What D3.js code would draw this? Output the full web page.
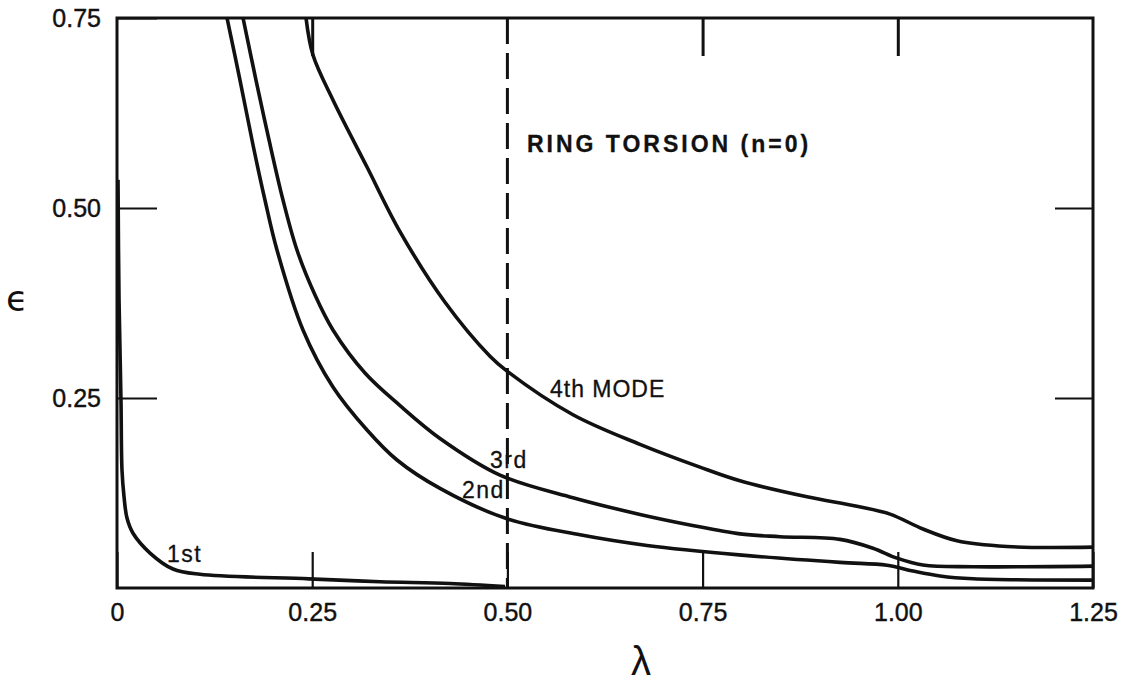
<!DOCTYPE html>
<html>
<head>
<meta charset="utf-8">
<script src="https://cdn.jsdelivr.net/npm/d3@7"></script>
<style>
    body { margin: 0; background: #fff; }
    .tick line { stroke: #111; stroke-width: 2.2; }
    .tick text { font-family: "Liberation Sans", Arial, sans-serif; font-size: 25px; fill: #111; stroke: #111; stroke-width: 0.4; }
    .mode { fill: none; stroke: #111; stroke-width: 3.6; }
    .label { font-family: "Liberation Sans", Arial, sans-serif; font-size: 23px; fill: #111; stroke: #111; stroke-width: 0.3; }
</style>
</head>
<body>
<script>
//ring torsion (n=0) frequency curves, eps against lambda

//axis ticks
var xTicks = [0, 0.25, 0.50, 0.75, 1.00, 1.25],
    yTicks = [0.25, 0.50, 0.75];

//1st mode, stops at lambda = 0.5
var mode1Lambda = [0.0013, 0.0026, 0.0051, 0.0064, 0.0090, 0.0128, 0.0205, 0.0423, 0.0717, 0.1063, 0.2459, 0.3368, 0.4265, 0.4969],
    mode1Eps    = [0.537, 0.379, 0.247, 0.155, 0.120, 0.092, 0.072, 0.046, 0.025, 0.018, 0.012, 0.0083, 0.006, 0.002];

//2nd mode
var mode2Lambda = [0.1409, 0.1575, 0.1742, 0.1895, 0.2049, 0.2382, 0.2766, 0.3202, 0.3586, 0.4137, 0.4969, 0.5930, 0.6788, 0.7966, 0.9260, 0.9861, 1.0194, 1.0540, 1.0963, 1.25],
    mode2Eps    = [0.75, 0.6684, 0.5829, 0.5105, 0.4447, 0.3395, 0.2645, 0.2079, 0.1684, 0.131, 0.092, 0.070, 0.056, 0.0436, 0.0337, 0.030, 0.0224, 0.0159, 0.0122, 0.0104];

//3rd mode
var mode3Lambda = [0.1614, 0.1780, 0.1947, 0.2126, 0.2305, 0.2536, 0.2766, 0.3176, 0.3625, 0.4137, 0.4905, 0.5840, 0.6698, 0.7338, 0.7979, 0.8491, 0.9259, 0.9682, 0.9989, 1.0322, 1.0963, 1.25],
    mode3Eps    = [0.75, 0.6684, 0.5895, 0.5105, 0.4447, 0.3855, 0.3395, 0.2829, 0.240, 0.1968, 0.1486, 0.1188, 0.0968, 0.083, 0.0712, 0.0675, 0.064, 0.0524, 0.0393, 0.0303, 0.028, 0.0288];

//4th mode
var mode4Lambda = [0.2421, 0.2510, 0.2766, 0.3202, 0.3624, 0.4201, 0.4777, 0.4995, 0.5840, 0.6698, 0.7466, 0.7979, 0.8837, 0.9477, 0.9900, 1.0322, 1.0758, 1.1398, 1.25],
    mode4Eps    = [0.75, 0.7013, 0.6421, 0.5539, 0.469, 0.376, 0.305, 0.2854, 0.228, 0.189, 0.159, 0.141, 0.120, 0.1075, 0.0972, 0.0776, 0.0621, 0.0546, 0.0538];

//curve labels and where they sit (lambda, eps of text start)
var labelText   = ["1st", "2nd", "3rd", "4th MODE"],
    labelLambda = [0.064, 0.4418, 0.4777, 0.5545],
    labelEps    = [0.0342, 0.1184, 0.1579, 0.2513];

var modes = [
    {lambda: mode1Lambda, eps: mode1Eps},
    {lambda: mode2Lambda, eps: mode2Eps},
    {lambda: mode3Lambda, eps: mode3Eps},
    {lambda: mode4Lambda, eps: mode4Eps}
];

setChart();

function setChart(){
    var width = 1127,
        height = 685;

    var svg = d3.select("body")
        .append("svg")
        .attr("width", width)
        .attr("height", height);

    var x = d3.scaleLinear().domain([0, 1.25]).range([117, 1093]),
        y = d3.scaleLinear().domain([0, 0.75]).range([588, 18]);

    //clip curves to the frame
    svg.append("clipPath")
        .attr("id", "plot")
        .append("rect")
        .attr("x", x(0))
        .attr("y", y(0.75))
        .attr("width", x(1.25) - x(0))
        .attr("height", y(0) - y(0.75));

    //bottom axis, ticks pointing in
    var bottom = svg.append("g")
        .attr("transform", "translate(0," + y(0) + ")")
        .call(d3.axisBottom(x)
            .tickValues(xTicks)
            .tickSizeInner(-36)
            .tickSizeOuter(0)
            .tickPadding(15)
            .tickFormat(function(d){ return d === 0 ? "0" : d3.format(".2f")(d); }));
    bottom.select(".domain").remove();

    //top ticks only
    var top = svg.append("g")
        .attr("transform", "translate(0," + y(0.75) + ")")
        .call(d3.axisTop(x)
            .tickValues([0.25, 0.75, 1.00])
            .tickSizeInner(-38)
            .tickSizeOuter(0)
            .tickFormat(""));
    top.select(".domain").remove();
    top.selectAll(".tick line").style("stroke-width", 3);

    //left axis
    var left = svg.append("g")
        .attr("transform", "translate(" + x(0) + ",0)")
        .call(d3.axisLeft(y)
            .tickValues(yTicks)
            .tickSizeInner(-40)
            .tickSizeOuter(0)
            .tickPadding(16)
            .tickFormat(d3.format(".2f")));
    left.select(".domain").remove();
    left.selectAll(".tick line").style("stroke-width", 1.8);

    //right ticks only
    var right = svg.append("g")
        .attr("transform", "translate(" + x(1.25) + ",0)")
        .call(d3.axisRight(y)
            .tickValues([0.25, 0.50])
            .tickSizeInner(-38)
            .tickSizeOuter(0)
            .tickFormat(""));
    right.select(".domain").remove();

    //frame
    svg.append("rect")
        .attr("x", x(0))
        .attr("y", y(0.75))
        .attr("width", x(1.25) - x(0))
        .attr("height", y(0) - y(0.75))
        .attr("fill", "none")
        .attr("stroke", "#111")
        .attr("stroke-width", 3);

    //dashed line at lambda = 0.5
    svg.append("line")
        .attr("x1", x(0.5))
        .attr("x2", x(0.5))
        .attr("y1", y(0.75))
        .attr("y2", y(0))
        .attr("stroke", "#111")
        .attr("stroke-width", 3)
        .attr("stroke-dasharray", "26,9");

    var line = d3.line()
        .x(function(d){ return x(d[0]); })
        .y(function(d){ return y(d[1]); })
        .curve(d3.curveCatmullRom.alpha(0.5));

    svg.append("g")
        .attr("clip-path", "url(#plot)")
        .selectAll(".mode")
        .data(modes)
        .enter()
        .append("path")
        .attr("class", "mode")
        .attr("d", function(m){
            return line(m.lambda.map(function(l, i){ return [l, m.eps[i]]; }));
        });

    //curve labels
    svg.selectAll(".label")
        .data(labelText)
        .enter()
        .append("text")
        .attr("class", "label")
        .attr("x", function(d, i){ return x(labelLambda[i]); })
        .attr("y", function(d, i){ return y(labelEps[i]); })
        .style("letter-spacing", function(d, i){ return i === 3 ? "1px" : "1.5px"; })
        .text(function(d){ return d; });

    svg.append("text")
        .attr("class", "label")
        .attr("x", x(0.525))
        .attr("y", y(0.5737))
        .style("font-weight", "bold")
        .style("letter-spacing", "3px")
        .text("RING TORSION (n=0)");

    //axis titles
    svg.append("text")
        .attr("x", 17)
        .attr("y", 311)
        .attr("text-anchor", "middle")
        .style("font-family", "DejaVu Sans, sans-serif")
        .style("font-size", "36px")
        .style("fill", "#111")
        .text("\u03F5");

    svg.append("text")
        .attr("x", 641)
        .attr("y", 675)
        .attr("text-anchor", "middle")
        .style("font-family", "Liberation Sans, Arial, sans-serif")
        .style("font-size", "40px")
        .style("fill", "#111")
        .text("\u03BB");
}
</script>
</body>
</html>
